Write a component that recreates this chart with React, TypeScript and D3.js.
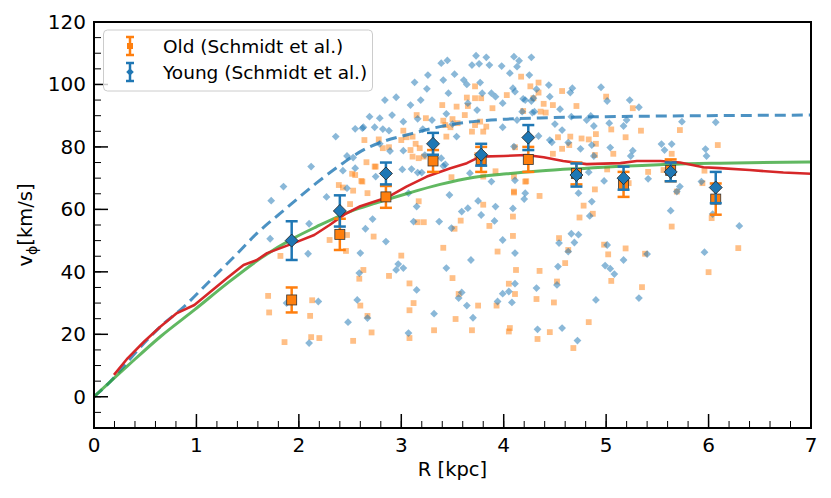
import React from 'react';
import * as d3 from 'd3';

// binned rotation curve (Schmidt et al.)
const binR = [1.93, 2.4, 2.85, 3.31, 3.78, 4.24, 4.71, 5.17, 5.63, 6.07];
const oldV = [31, 52, 64, 75.5, 76, 76, 71.5, 68, 72.5, 63.3];
const oldErr = [4, 5, 3.5, 3.5, 4, 4, 3.5, 4, 3.5, 5];
const youngV = [50, 59.5, 71.5, 81, 77.5, 83, 71, 70, 72, 67];
const youngErr = [6.2, 5, 3.5, 3.5, 3.5, 4, 3.7, 3.7, 3, 5];

// model curves
const greenCurve = [[0, 0], [0.325, 9.8], [0.65, 19.3], [0.98, 27.8], [1.3, 36.3], [1.63, 44.4], [1.95, 50.8], [2.17, 54.4], [2.5, 59.3], [2.75, 62], [3.05, 65], [3.38, 68], [3.7, 70.2], [4.03, 71.4], [4.35, 72.3], [4.81, 73.2], [5.14, 73.8], [5.46, 74.2], [5.79, 74.6], [6.11, 74.8], [7, 75.2]];
const blueCurve = [[0, 0], [0.16, 4.9], [0.33, 11.3], [0.49, 17.2], [0.65, 22.5], [0.88, 28.9], [1.14, 37.4], [1.37, 44.9], [1.59, 52.3], [1.85, 59.6], [2.17, 68.4], [2.43, 74.8], [2.6, 78.5], [2.82, 81.7], [3.05, 83.8], [3.38, 86.5], [3.7, 88.1], [4.03, 88.9], [4.35, 89.3], [5, 89.7], [6, 90], [7, 90.2]];
const redCurve = [[0.195, 7], [0.33, 12.4], [0.49, 17.7], [0.65, 22.5], [0.81, 26.8], [0.98, 29.4], [1.14, 33.7], [1.3, 38], [1.46, 42.2], [1.59, 43.8], [1.69, 46], [1.95, 49.2], [2.15, 51.8], [2.3, 55], [2.45, 58.5], [2.6, 61], [2.86, 63.8], [3.05, 67.3], [3.25, 70.5], [3.48, 73.2], [3.64, 74.8], [3.77, 76.9], [4.0, 77.1], [4.22, 77.4], [4.39, 76.7], [4.58, 75.5], [4.81, 74.5], [5.14, 74.8], [5.3, 75.5], [5.53, 75.5], [5.72, 75], [5.95, 73.5], [6.11, 73.2], [6.4, 72.6], [6.73, 71.8], [7, 71.4]];

// individual stars
const youngStars = [
  [1.73, 62.8], [1.85, 67.3], [2.12, 73.7], [2.36, 83.3], [2.43, 72.4], [2.27, 64.0], [1.72, 50.6], [2.10, 55.4], [2.09, 45.8], [1.88, 30.0], [2.19, 30.5], [2.48, 23.9], [2.10, 17.2], [2.47, 66.8],
  [2.55, 73.2], [2.72, 56.9], [2.65, 53.8], [2.85, 49.7], [2.60, 46.0], [2.59, 39.6], [2.97, 42.5], [2.95, 40.6], [3.02, 41.2], [3.15, 34.2], [2.57, 31.0], [2.67, 25.2], [3.07, 20.4], [3.01, 72.8], [3.10, 72.9], [3.07, 65.2], [3.15, 60.9], [3.12, 56.1], [3.20, 71.8],
  [3.41, 73.9], [3.37, 56.1], [3.47, 64.6], [3.49, 54.0], [3.59, 59.3], [3.67, 71.6], [3.68, 43.8], [3.78, 58.2], [3.75, 62.7], [3.91, 56.3], [3.99, 50.2], [4.11, 46.0], [4.09, 60.3], [4.20, 63.3], [4.11, 69.3], [4.11, 36.2], [4.05, 33.7], [3.99, 33.0], [4.08, 30.2], [3.94, 30.5], [4.32, 34.8], [3.44, 41.2], [3.59, 33.4], [3.56, 31.6], [3.64, 29.2], [3.32, 26.6], [3.70, 25.3], [4.33, 21.6],
  [4.32, 98.5], [4.44, 99.8], [4.67, 98.8], [4.65, 97.4], [4.95, 99.1], [5.01, 94.7], [5.23, 95.0], [5.32, 92.7], [4.19, 95.4], [4.29, 95.6], [4.45, 96.1], [4.55, 92.1], [4.28, 91.0], [4.18, 91.3], [4.50, 87.3], [4.57, 85.4], [4.34, 83.5], [4.45, 82.2], [4.47, 81.5], [4.63, 81.4], [4.66, 89.7], [4.75, 79.4], [4.85, 89.9], [4.81, 88.6], [4.88, 86.7], [4.86, 80.6], [4.88, 77.1], [5.03, 87.6], [5.04, 79.8], [5.17, 86.7], [5.20, 88.6], [5.26, 78.8], [5.24, 77.1], [4.98, 69.1], [4.83, 71.9], [4.73, 65.2], [4.86, 62.5], [4.84, 57.9], [5.41, 69.8], [5.54, 80.9], [5.64, 80.9], [5.57, 79.0], [5.72, 67.3], [5.69, 65.7], [5.74, 88.1], [6.07, 87.9], [5.97, 79.3], [5.98, 77.1], [5.93, 68.9], [5.63, 59.6], [6.04, 58.5], [6.30, 54.7], [4.66, 52.2], [4.73, 51.9], [4.54, 49.2], [4.69, 49.4], [4.63, 46.5], [5.01, 48.6], [5.40, 45.7], [5.17, 43.8], [4.99, 42.0], [5.04, 41.0], [5.08, 39.3], [4.53, 41.7], [5.96, 46.3], [4.52, 35.8], [4.90, 31.0], [5.32, 31.6], [4.57, 22.0], [4.72, 18.0],
  [3.73, 109.2], [3.83, 108.7], [4.10, 108.9], [4.27, 108.7], [3.39, 106.8], [3.45, 107.7], [3.69, 106.2], [3.76, 106.6], [3.86, 106.2], [3.98, 105.9], [4.15, 107.6], [4.13, 105.7], [3.26, 103.0], [3.41, 101.4], [3.52, 103.3], [3.61, 101.4], [3.64, 100.0], [3.13, 100.7], [3.25, 98.6], [3.46, 97.2], [3.77, 100.6], [3.79, 97.2], [3.88, 97.2], [3.92, 96.1], [4.06, 103.6], [4.09, 98.8], [4.11, 97.7], [4.21, 95.0], [4.25, 103.0], [2.84, 95.0], [2.91, 90.2], [3.19, 95.0], [3.09, 93.4], [3.65, 94.0], [3.74, 91.8], [3.99, 94.0], [4.27, 94.7], [2.69, 89.7], [2.79, 89.2], [3.02, 88.1], [3.16, 89.0], [3.30, 88.6], [3.44, 90.6], [3.50, 87.3], [3.99, 86.3], [4.13, 88.6], [4.30, 91.3], [2.63, 86.3], [2.74, 86.3], [2.82, 85.7], [2.88, 85.2], [3.21, 85.7], [3.54, 83.3], [4.10, 80.1], [2.89, 78.7], [2.79, 81.0], [3.02, 78.8], [3.23, 77.4], [3.43, 74.4], [3.39, 76.4], [2.47, 77.1], [2.53, 76.6], [2.75, 70.5], [3.16, 71.8], [3.88, 68.9], [3.92, 60.9], [4.21, 65.2], [3.65, 60.4], [2.62, 86.0], [2.95, 95.9], [2.55, 85.8],
];
const oldStars = [
  [2.39, 67.8], [2.43, 67.0], [2.30, 50.2], [2.47, 51.8], [2.46, 46.7], [1.82, 45.1], [1.70, 32.3], [1.71, 27.0], [2.13, 30.9], [2.11, 25.9], [1.86, 17.5], [2.12, 19.1], [2.20, 18.8],
  [2.52, 71.4], [2.55, 71.0], [2.61, 69.1], [2.75, 73.7], [2.67, 65.2], [2.53, 66.0], [2.50, 61.7], [2.73, 51.3], [3.00, 45.2], [2.63, 40.6], [2.59, 37.8], [2.88, 38.7], [3.08, 36.3], [3.12, 30.0], [3.08, 27.7], [2.60, 29.2], [2.67, 25.9], [2.71, 20.6], [2.53, 17.9], [3.08, 18.8], [3.32, 21.3], [3.53, 24.9], [3.69, 21.3], [3.75, 29.2], [3.56, 32.9], [3.50, 38.0], [3.41, 47.7], [3.58, 56.4], [3.52, 53.8], [3.22, 55.9], [3.16, 55.9], [3.17, 62.6], [3.49, 70.3], [3.80, 61.5], [3.86, 54.7], [3.94, 46.5], [4.09, 57.7], [4.09, 51.5], [4.10, 65.4], [4.22, 69.0], [4.12, 40.6], [4.05, 36.2], [4.11, 32.9], [3.93, 29.2], [4.06, 22.0], [4.05, 20.9], [4.33, 18.5], [4.32, 31.3], [4.35, 40.3], [4.35, 64.3], [3.92, 72.2],
  [4.57, 97.9], [4.34, 97.4], [4.39, 93.8], [4.48, 93.4], [4.36, 91.3], [4.41, 91.0], [4.71, 93.1], [5.00, 96.1], [5.26, 92.4], [4.76, 82.7], [4.65, 83.3], [4.53, 83.1], [4.57, 79.4], [4.48, 77.8], [4.64, 80.6], [4.83, 82.4], [4.90, 84.1], [4.90, 81.0], [4.89, 77.4], [5.05, 85.6], [5.19, 83.1], [5.34, 85.2], [5.72, 85.4], [6.09, 80.6], [5.07, 77.8], [5.01, 72.8], [5.41, 72.0], [5.56, 72.6], [5.64, 77.8], [5.69, 65.7], [5.94, 68.4], [5.96, 72.4], [4.89, 66.4], [4.78, 61.2], [4.74, 57.4], [4.87, 58.6], [5.22, 68.4], [5.64, 54.5], [6.03, 57.2], [6.29, 47.6], [6.00, 39.9], [4.54, 50.8], [4.63, 47.0], [4.60, 42.8], [4.98, 48.7], [5.02, 45.6], [5.19, 47.5], [5.38, 45.8], [4.52, 36.9], [5.05, 37.1], [5.35, 35.1], [4.49, 30.2], [4.83, 23.9], [4.45, 20.7], [4.68, 15.6],
  [3.72, 99.4], [4.17, 102.5], [4.26, 99.4], [4.34, 100.6], [3.64, 95.8], [3.72, 95.6], [3.78, 95.6], [4.03, 96.6], [4.29, 95.6], [3.40, 93.4], [3.54, 92.9], [3.65, 93.1], [3.89, 92.4], [4.19, 91.5], [3.15, 90.2], [3.24, 89.2], [3.41, 88.4], [3.50, 88.9], [3.43, 87.0], [3.48, 86.3], [3.55, 87.6], [3.62, 90.2], [3.72, 87.0], [3.77, 88.1], [3.83, 86.5], [3.69, 84.9], [3.80, 84.9], [3.02, 85.2], [3.05, 83.1], [3.00, 82.2], [3.11, 83.3], [3.14, 81.0], [3.09, 79.0], [3.18, 79.6], [3.11, 76.9], [3.17, 76.4], [3.22, 76.9], [2.64, 82.2], [2.78, 82.4], [2.88, 79.9], [2.82, 79.6], [2.66, 75.1], [2.74, 73.7], [2.62, 68.9], [3.44, 83.3], [3.74, 77.4], [3.80, 70.5], [4.10, 70.5], [4.11, 79.9], [4.21, 68.9], [4.10, 65.7],
];

const xTicks = [0, 1, 2, 3, 4, 5, 6, 7];
const yTicks = [0, 20, 40, 60, 80, 100, 120];
const legendLabels = ['Old (Schmidt et al.)', 'Young (Schmidt et al.)'];

const W = 831, H = 498;
const L = 94, R = 811, T = 22, B = 428;
const FONT = 'DejaVu Sans, sans-serif';
const C_BLUE = '#1f77b4', C_ORANGE = '#ff7f0e', C_RED = '#d62728', C_GREEN = '#2ca02c';

const diamond = (s: number) => `M0,${-s}L${s},0L0,${s}L${-s},0Z`;

export default function App() {
  const x = d3.scaleLinear().domain([0, 7]).range([L, R]);
  const y = d3.scaleLinear().domain([-10, 120]).range([B, T]);
  const line = d3.line<number[]>().x(d => x(d[0])).y(d => y(d[1]));
  const smooth = d3.line<number[]>().x(d => x(d[0])).y(d => y(d[1])).curve(d3.curveMonotoneX);

  const xMinor = d3.range(0, 7.001, 0.2);
  const yMinor = d3.range(-5, 120.001, 5);

  const errBar = (r: number, v: number, e: number, color: string, key: string) => (
    <g key={key} stroke={color} strokeWidth={2.5}>
      <line x1={x(r)} x2={x(r)} y1={y(v - e)} y2={y(v + e)} />
      <line x1={x(r) - 6} x2={x(r) + 6} y1={y(v - e)} y2={y(v - e)} />
      <line x1={x(r) - 6} x2={x(r) + 6} y1={y(v + e)} y2={y(v + e)} />
    </g>
  );

  return (
    <svg width={W} height={H} style={{ position: 'absolute', left: 0, top: 0, background: '#fff' }} fontFamily={FONT}>
      <defs>
        <clipPath id="plot"><rect x={L} y={T} width={R - L} height={B - T} /></clipPath>
      </defs>
      <g clipPath="url(#plot)">
        {oldStars.map((d, i) => (
          <rect key={'o' + i} x={x(d[0]) - 2.9} y={y(d[1]) - 2.9} width={5.8} height={5.8} fill={C_ORANGE} opacity={0.5} />
        ))}
        {youngStars.map((d, i) => (
          <path key={'y' + i} d={diamond(3.9)} transform={`translate(${x(d[0])},${y(d[1])})`} fill={C_BLUE} opacity={0.52} />
        ))}
        <path d={smooth(blueCurve) || ''} fill="none" stroke={C_BLUE} strokeOpacity={0.8} strokeWidth={3} strokeDasharray="11,6" />
        <path d={smooth(greenCurve) || ''} fill="none" stroke={C_GREEN} strokeOpacity={0.75} strokeWidth={3} />
        <path d={line(redCurve) || ''} fill="none" stroke={C_RED} strokeWidth={2.6} strokeLinejoin="round" />
        {binR.map((r, i) => errBar(r, oldV[i], oldErr[i], C_ORANGE, 'oe' + i))}
        {binR.map((r, i) => (
          <rect key={'om' + i} x={x(r) - 5} y={y(oldV[i]) - 5} width={10} height={10} fill={C_ORANGE} stroke="#333" strokeWidth={0.8} />
        ))}
        {binR.map((r, i) => errBar(r, youngV[i], youngErr[i], C_BLUE, 'ye' + i))}
        {binR.map((r, i) => (
          <path key={'ym' + i} d={diamond(6.5)} transform={`translate(${x(r)},${y(youngV[i])})`} fill={C_BLUE} stroke="#222" strokeWidth={0.8} />
        ))}
      </g>

      {/* ticks */}
      <g stroke="#000">
        {xMinor.map((t, i) => (
          <line key={'xm' + i} x1={x(t)} x2={x(t)} y1={B} y2={B - 7} strokeWidth={1} />
        ))}
        {xTicks.map(t => (
          <line key={'xM' + t} x1={x(t)} x2={x(t)} y1={B} y2={B - 14} strokeWidth={1.5} />
        ))}
        {yMinor.map((t, i) => (
          <line key={'ym' + i} x1={L} x2={L + 7} y1={y(t)} y2={y(t)} strokeWidth={1} />
        ))}
        {yTicks.map(t => (
          <line key={'yM' + t} x1={L} x2={L + 14} y1={y(t)} y2={y(t)} strokeWidth={1.5} />
        ))}
      </g>
      <rect x={L} y={T} width={R - L} height={B - T} fill="none" stroke="#000" strokeWidth={2} />

      {xTicks.map(t => (
        <text key={'xl' + t} x={x(t)} y={B + 24} fontSize={20} textAnchor="middle">{t}</text>
      ))}
      {yTicks.map(t => (
        <text key={'yl' + t} x={L - 8} y={y(t) + 7} fontSize={20} textAnchor="end">{t}</text>
      ))}
      <text x={(L + R) / 2} y={476} fontSize={19.5} textAnchor="middle">R [kpc]</text>
      <text transform={`translate(32,${(T + B) / 2}) rotate(-90)`} fontSize={19.5} textAnchor="middle">
        v<tspan fontSize={14} dy={5}>ϕ</tspan><tspan dy={-5}>[km/s]</tspan>
      </text>

      {/* legend */}
      <g>
        <rect x={103.5} y={30} width={269} height={61} rx={4} fill="#fff" fillOpacity={0.8} stroke="#ccc" strokeWidth={1} />
        {[C_ORANGE, C_BLUE].map((c, i) => {
          const cy = 46 + i * 26;
          return (
            <g key={'lg' + i}>
              <g stroke={c} strokeWidth={2.5}>
                <line x1={130} x2={130} y1={cy - 9} y2={cy + 9} />
                <line x1={126} x2={134} y1={cy - 9} y2={cy - 9} />
                <line x1={126} x2={134} y1={cy + 9} y2={cy + 9} />
              </g>
              {i === 0
                ? <rect x={127} y={cy - 3} width={6} height={6} fill={c} />
                : <path d={diamond(3.8)} transform={`translate(130,${cy})`} fill={c} />}
              <text x={163} y={cy + 6.5} fontSize={18.5}>{legendLabels[i]}</text>
            </g>
          );
        })}
      </g>
    </svg>
  );
}
